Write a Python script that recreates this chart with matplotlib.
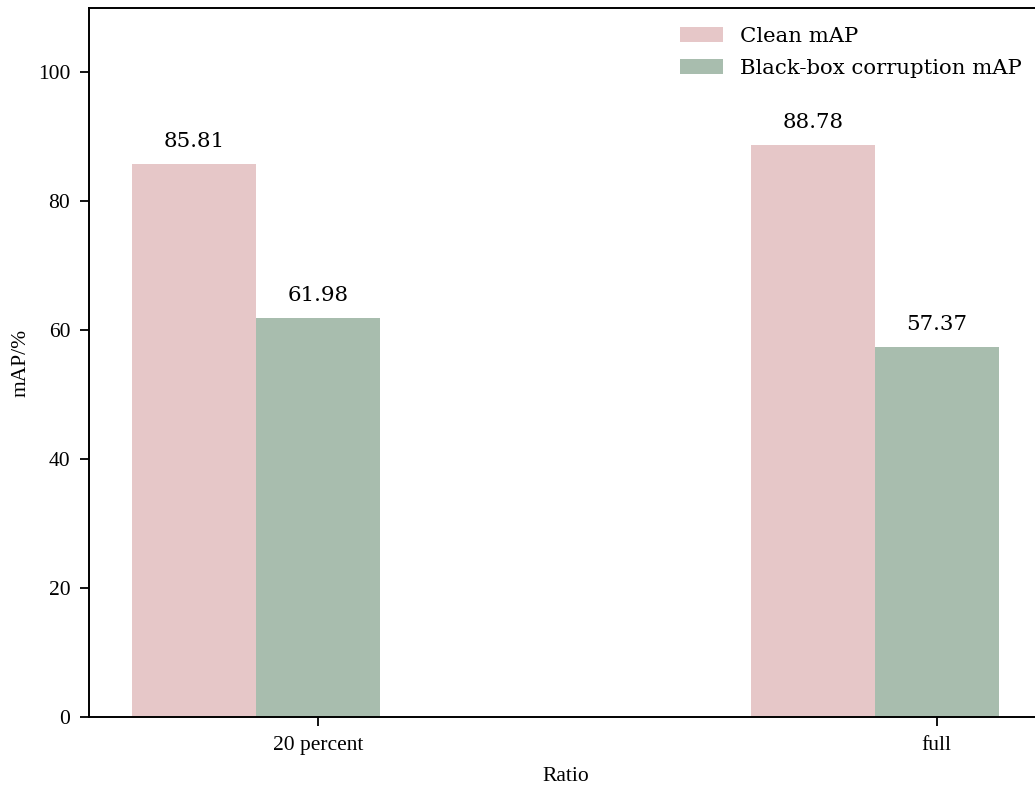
import matplotlib
matplotlib.use("Agg")
from matplotlib import pyplot as plt
import numpy as np

ratios = ["20 percent", "full"]
clean_map = [85.81, 88.78]
blackbox_map = [61.98, 57.37]

clean_color = "#e6c7c8"
bb_color = "#a8bdae"

x = np.arange(len(ratios))
width = 0.2

fig = plt.figure(figsize=(10.35, 7.87), dpi=100)
ax = fig.add_axes([89 / 1035, 70 / 787, 953 / 1035, 709 / 787])

ax.bar(x - width, clean_map, width, color=clean_color, label="Clean mAP")
ax.bar(x, blackbox_map, width, color=bb_color, label="Black-box corruption mAP")

for xi, v in zip(x - width, clean_map):
    ax.text(xi, v + 2.0, "%.2f" % v, ha="center", va="bottom",
            family="DejaVu Serif", fontsize=15.4)
for xi, v in zip(x, blackbox_map):
    ax.text(xi, v + 2.0, "%.2f" % v, ha="center", va="bottom",
            family="DejaVu Serif", fontsize=15.4)

ax.set_xlim(-0.37, 1.17)
ax.set_ylim(0, 110)
ax.set_xticks(x)
ax.set_xticklabels(ratios, family="Liberation Serif", fontsize=15.5)
ax.set_yticks([0, 20, 40, 60, 80, 100])
ax.set_yticklabels(["0", "20", "40", "60", "80", "100"], family="Liberation Serif", fontsize=15.5)
ax.tick_params(width=1.3, length=6.5, pad=7)
for s in ax.spines.values():
    s.set_linewidth(1.4)

ax.set_xlabel("Ratio", family="Liberation Serif", fontsize=15.5, labelpad=9)
ax.set_ylabel("mAP/%", family="Liberation Serif", fontsize=15.5, labelpad=5.5)

ax.legend(loc="upper right", frameon=False, prop={"family": "DejaVu Serif", "size": 15.3},
          bbox_to_anchor=(0.9986, 1.0), labelspacing=0.6)

fig.savefig("out.png", dpi=100)
